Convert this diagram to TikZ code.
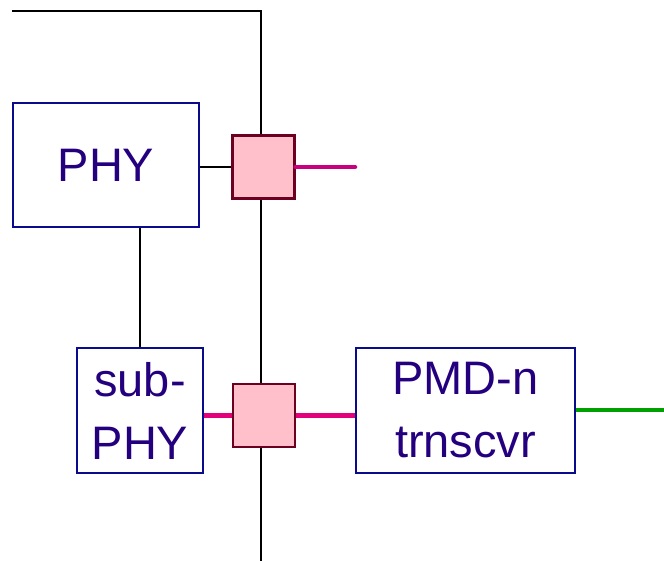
\documentclass[tikz,border=0pt]{standalone}
\usepackage{fontspec}
\setmainfont{Liberation Sans}
\definecolor{boxblue}{HTML}{0A0A8C}
\definecolor{txtblue}{HTML}{24007F}
\definecolor{sqfill}{HTML}{FFC0CB}
\definecolor{sqdraw}{HTML}{6B0020}
\definecolor{mag1}{HTML}{C8007F}
\definecolor{mag2}{HTML}{E3007D}
\definecolor{grn}{HTML}{00A000}
\tikzset{
  blk/.style={draw=boxblue, line width=2.2pt, fill=white, text=txtblue, inner sep=0pt, align=center, font=\fontsize{47}{63}\selectfont},
  sq/.style={draw=sqdraw, line width=2.2pt, fill=sqfill, minimum width=62pt, minimum height=63pt, inner sep=0pt},
  wire/.style={black, line width=2pt},
  mwire/.style={line width=4.5pt, line cap=round},
}
\begin{document}
\begin{tikzpicture}[x=1pt,y=-1pt]
\useasboundingbox (0,0) rectangle (664,561);
\coordinate (tl) at (12,11);
\coordinate (tr) at (261,11);
\coordinate (bot) at (261,561);
\coordinate (magend) at (355,167);
\coordinate (grnend) at (664,410);
\draw[wire] (tl) -- (tr) -- (bot);
\node[blk, minimum width=186pt, minimum height=124pt] (phy) at (106,165) {PHY};
\node[blk, minimum width=126pt, minimum height=125pt] (sub) at (140,410.5) {sub-\\PHY};
\node[blk, minimum width=219pt, minimum height=125pt] (pmd) at (465.5,410.5) {PMD-n\\trnscvr};
\node[sq] (s1) at (263.5,167) {};
\node[sq] (s2) at (264,415.5) {};
\draw[wire] (phy.east |- s1.west) -- (s1.west);
\draw[wire] (sub.north |- phy.south) -- (sub.north);
\draw[mwire, mag1] (s1.east) -- (magend);
\draw[mwire, mag2, line cap=butt] (sub.east |- s2.west) -- (s2.west);
\draw[mwire, mag2, line cap=butt] (s2.east) -- (pmd.west |- s2.east);
\draw[mwire, grn, line cap=butt] (pmd.east |- grnend) -- (grnend);
\end{tikzpicture}
\end{document}
